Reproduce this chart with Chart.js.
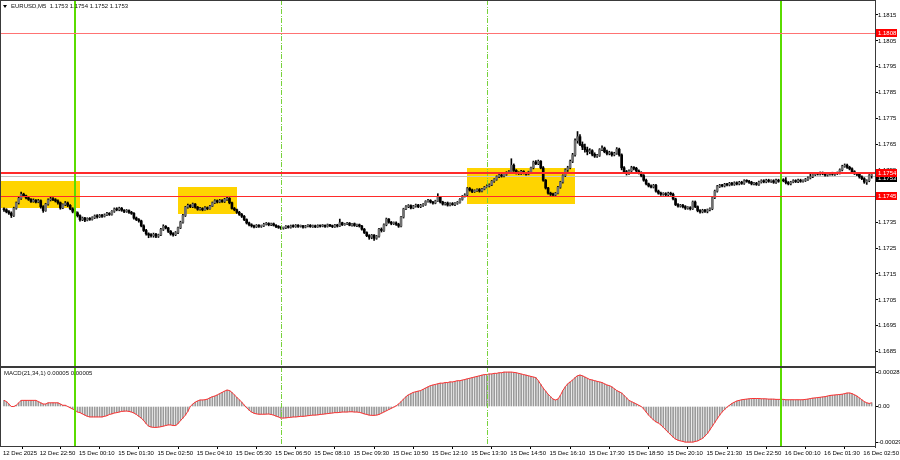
<!DOCTYPE html>
<html><head><meta charset="utf-8">
<script src="https://cdn.jsdelivr.net/npm/chart.js@4.4.1/dist/chart.umd.min.js"></script>
<style>
html,body{margin:0;padding:0;background:#fff;}
#wrap{position:relative;width:900px;height:460px;overflow:hidden;background:#fff;font-family:"Liberation Sans",Arial,sans-serif;}
canvas{position:absolute;left:0;}
#c1{top:0;} #c2{top:367px;}
.lbl{position:absolute;font-size:6px;color:#111;white-space:pre;line-height:7px;}
#tri{position:absolute;left:3px;top:5px;width:0;height:0;border-left:2px solid transparent;border-right:2px solid transparent;border-top:3px solid #000;}
</style></head><body>
<div id="wrap">
<canvas id="c1" width="900" height="367"></canvas>
<canvas id="c2" width="900" height="93"></canvas>
<div id="tri"></div>
<div class="lbl" style="left:11px;top:3px;">EURUSD,M5  1.1753 1.1754 1.1752 1.1753</div>
<div class="lbl" style="left:4px;top:370px;">MACD(21,34,1) 0.00005 0.00005</div>
</div>
<script>
// ---------- DATA (prices in points of 0.00001 above 1.17000) ----------
const BASE = 1.17, PT = 0.00001;
const firstOpenPts = 400;
const closePts = [
398,390,385,376,404,425,442,458,452,444,
438,430,435,428,433,410,395,420,436,440,
437,432,425,405,418,424,415,402,392,386,
375,360,366,358,364,361,368,374,371,376,
373,378,384,380,392,401,398,404,396,392,
395,388,384,366,360,355,336,318,305,300,
298,303,296,301,322,334,328,315,305,302,
310,328,350,376,408,415,410,420,408,400,
403,398,406,402,412,425,433,428,434,430,
438,442,425,403,398,388,380,373,360,347,
340,336,332,338,334,336,342,345,340,344,
338,333,330,327,328,334,330,336,333,338,
334,336,331,335,338,333,336,332,337,335,
338,334,340,336,333,339,335,348,340,343,
346,338,344,337,340,335,323,310,298,292,
300,288,296,323,318,340,362,350,345,347,
342,335,370,401,410,414,405,412,416,410,
415,418,430,434,428,424,432,446,428,420,
424,416,422,418,423,426,438,450,455,480,
474,468,472,476,470,478,485,490,494,508,
515,526,532,528,535,541,545,570,550,541,
538,546,540,536,544,560,582,576,585,560,
512,482,462,458,455,462,485,505,530,552,
560,585,610,665,680,650,640,630,622,626,
612,605,608,630,636,622,615,618,610,616,
632,610,560,545,538,548,560,558,548,541,
530,512,498,490,486,492,470,462,458,460,
456,462,458,440,418,412,415,410,404,406,
402,428,410,395,390,396,392,398,402,445,
470,488,492,490,496,494,500,496,502,498,
504,500,510,508,504,498,500,496,505,510,
506,512,508,510,504,512,508,514,510,503,
498,505,510,507,512,508,511,515,521,526,
534,538,536,540,537,532,536,539,535,538,
540,552,566,570,562,556,545,538,535,525,
518,505,510,530,530];
const highPts = [
405,402,395,390,408,428,446,466,462,455,
448,441,440,437,438,436,414,423,440,446,
445,441,436,428,421,430,428,418,406,396,
390,378,370,369,367,368,371,378,379,380,
380,382,388,387,395,405,406,408,407,399,
399,398,392,387,370,364,358,340,322,309,
306,308,307,304,326,340,337,330,318,310,
314,331,354,380,411,420,418,424,422,411,
407,406,410,409,415,428,437,436,438,437,
442,447,445,428,407,401,392,384,376,363,
350,344,339,341,341,339,346,349,348,347,
347,341,337,333,331,337,337,339,340,341,
341,339,338,338,341,341,339,339,340,339,
341,340,343,342,339,342,342,362,350,346,
349,349,346,347,343,343,338,326,313,302,
303,302,299,326,328,344,366,364,353,351,
351,346,373,404,414,418,417,415,420,419,
419,422,433,438,437,431,435,460,449,431,
427,428,425,426,426,430,441,453,460,484,
484,478,475,479,480,481,488,494,498,511,
518,529,536,535,538,545,549,595,575,553,
545,550,549,543,547,563,586,588,590,588,
565,515,485,466,462,465,488,508,533,556,
566,590,616,672,700,688,660,652,640,634,
630,618,612,634,645,640,628,624,622,620,
638,636,614,565,550,552,566,565,562,552,
545,534,516,501,494,496,496,474,466,464,
464,466,466,462,443,422,419,419,414,410,
410,432,432,413,399,400,400,401,405,449,
474,492,496,496,500,500,504,504,506,506,
508,508,514,514,512,508,504,504,509,514,
514,516,516,514,514,516,516,518,518,522,
507,508,514,514,516,516,514,519,525,540,
538,542,541,544,544,541,540,543,543,542,
544,556,570,575,574,566,560,549,542,539,
529,522,514,534,540];
const lowPts = [
392,386,380,368,372,400,420,438,448,440,
434,426,427,424,425,404,388,392,416,432,
433,428,420,400,402,414,410,398,386,378,
370,354,356,352,355,357,358,364,366,368,
368,370,375,376,377,388,394,394,392,387,
388,384,380,362,356,350,332,314,300,290,
292,292,290,291,298,318,324,310,300,296,
298,306,325,346,372,404,406,406,404,396,
396,394,396,398,400,410,422,424,425,426,
426,434,421,400,394,384,376,368,356,343,
336,331,328,329,330,330,333,339,336,337,
335,329,326,322,323,325,327,327,330,330,
330,331,327,328,332,330,330,329,330,331,
332,330,331,333,329,330,331,333,337,338,
340,336,335,334,333,331,319,306,294,284,
286,280,284,292,312,314,336,346,340,341,
338,330,332,366,398,406,401,402,408,406,
406,411,415,427,424,420,421,430,424,416,
416,412,413,415,414,419,423,435,447,452,
470,464,465,469,466,467,475,482,486,491,
504,512,522,524,525,531,537,541,546,536,
534,534,536,532,533,541,556,572,572,556,
508,478,458,453,450,451,459,481,501,526,
546,556,580,605,655,645,630,620,610,615,
606,600,600,604,626,618,610,610,605,606,
612,605,552,538,532,534,544,552,544,536,
525,508,494,486,482,482,466,458,453,454,
451,452,454,436,414,408,408,405,399,400,
397,399,406,390,385,386,388,386,394,398,
441,466,484,486,486,490,490,492,492,494,
494,496,496,504,500,494,494,492,492,501,
502,502,504,504,500,500,504,504,506,498,
494,494,502,503,503,504,505,507,511,517,
522,530,532,532,533,528,528,532,531,531,
534,536,548,562,558,552,541,534,530,520,
514,500,496,506,520];
// MACD(21,34,1) values in units of 0.00001
const macdPts = [
5,4,2,0,0,1,3,5,5,5,
5,5,5,5,4,3,2,2,3,3,
3,3,3,2,1,1,0,-1,-2,-3,
-4.5,-5,-6,-7,-8,-8.5,-8.5,-8.5,-8.5,-8.5,
-8.5,-8,-7.5,-6.5,-6,-5.3,-5,-4.5,-4,-3.8,
-3.7,-4,-4.5,-5.3,-6.5,-8,-9.4,-11.5,-14,-16,
-16.7,-17,-17,-16.8,-16.5,-16,-15.5,-15,-15,-15.5,
-15.5,-14,-11.5,-9.4,-7,-4,0,2,3.5,4.5,
5.3,5.3,5.5,6,7,8,8.5,9.4,10.5,11.5,
12.5,13.4,13,11.5,9.4,7.5,5.5,3.5,1.2,-1,
-3,-4.5,-5.5,-6,-6.3,-6.3,-6.3,-6.2,-6.1,-6.5,
-7,-7.8,-8.5,-9.4,-9.4,-9.2,-9,-8.8,-8.5,-8.5,
-8.3,-8,-8,-7.8,-7.5,-7.3,-7,-7,-6.8,-6.5,
-6.3,-6,-5.8,-5.5,-5.3,-5,-5,-4.8,-4.5,-4.5,
-4.5,-4.3,-4.3,-4.5,-4.5,-4.8,-5.3,-6,-6.5,-7,
-7.2,-7.2,-7,-6.5,-5.5,-4.5,-3.5,-2.5,-1.5,-0.5,
0.5,2,4,6,8,9.5,10.5,11.5,12,12.5,
13,14,15,16,17,17.5,18,18.5,19,19,
19.5,19.5,20,20,20.5,21,21,21.5,22,22.5,
23,23.5,24,24.5,25,25.5,26,26,26.5,26.5,
27,27,27.5,27.5,28,28,28,28,27.8,27.5,
27,26.5,26,25.5,25,24.5,24,23.5,21,18,
15,12.5,10,8,6,5.3,6,9,13,16,
18.5,20,21.6,23.5,25,25.6,25,24,23,22,
21.6,21,20.5,20,19.5,18.5,17.5,17,16,14.5,
13,12,11,9,7,5,4,3,2,1,
0,-2,-4.5,-7,-9,-11,-12.5,-13.5,-15,-17,
-19,-21,-23,-25,-26.5,-27.5,-28,-28.5,-29,-29,
-29,-29,-28.5,-28,-27,-26,-24,-22,-19,-16,
-13,-10,-7,-4.5,-2.5,-0.5,1,2.5,3.5,4.5,
5,5.5,5.8,6,6.3,6.5,6.5,6.5,6.5,6.3,
6.3,6.2,6,6,6,5.8,5.8,5.8,5.8,5.5,
5.5,5.5,5.5,5.5,5.5,5.5,5.5,5.8,6,6.5,
6.8,7,7.3,7.5,7.8,8,8.5,9,9.2,9.4,
9.6,9.8,10,10.5,11,11,10.5,9.5,8.5,7,
5.5,4,3,2.5,3];
const timeLabels = ['12 Dec 2025','12 Dec 22:50','15 Dec 00:10','15 Dec 01:30','15 Dec 02:50','15 Dec 04:10','15 Dec 05:30','15 Dec 06:50','15 Dec 08:10','15 Dec 09:30','15 Dec 10:50','15 Dec 12:10','15 Dec 13:30','15 Dec 14:50','15 Dec 16:10','15 Dec 17:30','15 Dec 18:50','15 Dec 20:10','15 Dec 21:30','15 Dec 22:50','16 Dec 00:10','16 Dec 01:30','16 Dec 02:50'];
const timeLabelBars = [0,15,31,47,63,79,95,111,127,143,159,175,191,207,223,239,255,271,287,303,319,335,351];
const priceTicks = [1.1815,1.1805,1.1795,1.1785,1.1775,1.1765,1.1755,1.1745,1.1735,1.1725,1.1715,1.1705,1.1695,1.1685];
const macdTicks = [0.00028, 0, -0.00029];
const levelPrices = [1.1808, 1.1754, 1.1745];
const bidPrice = 1.1753;
const boxStartBar = [-3, 71, 189];
const boxEndBar = [31, 95, 233];
const boxTopPrice = [1.17510, 1.17486, 1.17560];
const boxBottomPrice = [1.17405, 1.17382, 1.17420];
const dayLineBars = [29, 317];
const sessionLineBars = [113, 197];

// ---------- build ----------
const X_MIN = -1.632, X_MAX = 355.37;
const Y_MIN = 1.167909, Y_MAX = 1.182079;
const M_MIN = -0.0003298, M_MAX = 0.0003217;
const FONT = '"Liberation Sans", Arial, sans-serif';
const toPrice = v => +(BASE + v * PT).toFixed(5);
const openPts = closePts.map((c, i) => i === 0 ? firstOpenPts : closePts[i - 1]);
const wickData = closePts.map((c, i) => ({x: i, y: [toPrice(lowPts[i]), toPrice(highPts[i])]}));
const bodyData = closePts.map((c, i) => ({x: i, y: [toPrice(openPts[i]), toPrice(c)]}));
const bodyColors = closePts.map((c, i) => c >= openPts[i] ? '#707070' : '#000000');
const macdData = macdPts.map((v, i) => ({x: i, y: +(v * PT).toFixed(7)}));

function vLines(chart) {
  const {ctx, chartArea: a, scales: {x}} = chart;
  ctx.save();
  ctx.fillStyle = 'rgb(120,210,60)';
  sessionLineBars.forEach(b => {
    const px = Math.round(x.getPixelForValue(b));
    for (let yy = a.top; yy < a.bottom; yy += 9) {
      ctx.fillRect(px, yy, 1, Math.min(5, a.bottom - yy));
      if (yy + 7 < a.bottom) ctx.fillRect(px, yy + 7, 1, 1);
    }
  });
  ctx.fillStyle = 'rgb(90,220,0)';
  dayLineBars.forEach(b => {
    const px = 2 * Math.floor(x.getPixelForValue(b) / 2);
    ctx.fillRect(px, a.top, 2, a.bottom - a.top);
  });
  ctx.restore();
}
function frame(chart) {
  const {ctx, chartArea: a} = chart;
  ctx.save();
  ctx.strokeStyle = '#3a3a3a'; ctx.lineWidth = 1;
  ctx.strokeRect(a.left + 0.5, a.top + 0.5, a.right - a.left, a.bottom - a.top - 1);
  ctx.restore();
}
function tag(chart, price, text, bg) {
  const {ctx, scales: {y}} = chart;
  const py = Math.round(y.getPixelForValue(price));
  ctx.save();
  ctx.fillStyle = bg;
  ctx.fillRect(y.left + 1, py - 4, 21, 8);
  ctx.fillStyle = '#fff';
  ctx.font = '6px ' + FONT;
  ctx.textBaseline = 'middle'; ctx.textAlign = 'left';
  ctx.fillText(text, y.left + 3, py + 0.5);
  ctx.restore();
}

const mainOverlay = {
  id: 'mainOverlay',
  beforeDatasetsDraw(chart) {
    const {ctx, chartArea: a, scales: {x, y}} = chart;
    ctx.save();
    ctx.beginPath(); ctx.rect(a.left, a.top, a.right - a.left, a.bottom - a.top); ctx.clip();
    ctx.fillStyle = '#ffd400';
    for (let k = 0; k < boxStartBar.length; k++) {
      const x1 = Math.round(x.getPixelForValue(boxStartBar[k])), x2 = Math.round(x.getPixelForValue(boxEndBar[k]));
      const y1 = Math.round(y.getPixelForValue(boxTopPrice[k])), y2 = Math.round(y.getPixelForValue(boxBottomPrice[k]));
      ctx.fillRect(x1, y1, x2 - x1, y2 - y1);
    }
    const yb = Math.round(y.getPixelForValue(bidPrice));
    ctx.fillStyle = '#c4c4c4';
    ctx.fillRect(a.left, yb, a.right - a.left, 1);
    ctx.restore();
  },
  afterDatasetsDraw(chart) {
    const {ctx, chartArea: a, scales: {y}} = chart;
    vLines(chart);
    const colors = ['#ff7373', '#ff2b2b', '#ff2b2b'];
    const widths = [1, 2, 1];
    ctx.save();
    levelPrices.forEach((p, k) => {
      const py = Math.round(y.getPixelForValue(p));
      ctx.fillStyle = colors[k];
      ctx.fillRect(a.left, py - (widths[k] === 2 ? 1 : 0), a.right - a.left, widths[k]);
    });
    ctx.restore();
  },
  afterDraw(chart) {
    frame(chart);
    tag(chart, bidPrice - 0.0001, bidPrice.toFixed(4), '#000');
    levelPrices.forEach(p => tag(chart, p, p.toFixed(4), '#ff0000'));
  }
};
const macdOverlay = {
  id: 'macdOverlay',
  afterDatasetsDraw(chart) { vLines(chart); },
  afterDraw(chart) { frame(chart); }
};

Chart.defaults.font.family = FONT;
Chart.defaults.font.size = 6;
Chart.defaults.color = '#000';

const yAxisFit = s => { s.width = 25; s.paddingTop = 0; s.paddingBottom = 0; };

new Chart(document.getElementById('c1'), {
  type: 'bar',
  data: {datasets: [
    {data: bodyData, backgroundColor: bodyColors, barThickness: 2, grouped: false, minBarLength: 1, borderWidth: 0, order: 0},
    {data: wickData, backgroundColor: '#000', barThickness: 1, grouped: false, minBarLength: 1, borderWidth: 0, order: 1}
  ]},
  options: {
    responsive: false, animation: false, devicePixelRatio: 1, events: [],
    layout: {padding: 0},
    plugins: {legend: {display: false}, tooltip: {enabled: false}},
    scales: {
      x: {type: 'linear', min: X_MIN, max: X_MAX, offset: false, display: false},
      y: {type: 'linear', position: 'right', min: Y_MIN, max: Y_MAX, beginAtZero: false,
        afterBuildTicks: s => { s.ticks = priceTicks.map(v => ({value: v})); },
        afterFit: yAxisFit,
        ticks: {autoSkip: false, padding: 0, callback: v => Number(v).toFixed(4), font: {size: 6}, color: '#000'},
        grid: {drawOnChartArea: false, drawTicks: true, tickLength: 3, color: '#000'},
        border: {display: true, color: '#3a3a3a'}}
    }
  },
  plugins: [mainOverlay]
});

new Chart(document.getElementById('c2'), {
  type: 'bar',
  data: {datasets: [
    {type: 'line', data: macdData, borderColor: '#ff3030', borderWidth: 1, pointRadius: 0, tension: 0, fill: false, order: 0},
    {data: macdData, backgroundColor: '#9a9a9a', barThickness: 1, grouped: false, borderWidth: 0, order: 1}
  ]},
  options: {
    responsive: false, animation: false, devicePixelRatio: 1, events: [],
    layout: {padding: 0},
    plugins: {legend: {display: false}, tooltip: {enabled: false}},
    scales: {
      x: {type: 'linear', position: 'bottom', min: X_MIN, max: X_MAX, offset: false,
        afterBuildTicks: s => { s.ticks = timeLabelBars.map(v => ({value: v})); },
        afterFit: s => { s.height = 13; s.paddingLeft = 0; s.paddingRight = 0; },
        ticks: {autoSkip: false, maxRotation: 0, minRotation: 0, align: 'start', padding: 1, labelOffset: -1,
          callback: v => { const k = timeLabelBars.indexOf(v); return k >= 0 ? timeLabels[k] : ''; },
          font: {size: 6}, color: '#000'},
        grid: {drawOnChartArea: false, drawTicks: true, tickLength: 2, color: '#000'},
        border: {display: false}},
      y: {type: 'linear', position: 'right', min: M_MIN, max: M_MAX, beginAtZero: false,
        afterBuildTicks: s => { s.ticks = macdTicks.map(v => ({value: v})); },
        afterFit: yAxisFit,
        ticks: {autoSkip: false, padding: 0, callback: v => v === 0 ? '0.00' : Number(v).toFixed(5), font: {size: 6}, color: '#000'},
        grid: {drawOnChartArea: false, drawTicks: true, tickLength: 3, color: '#000'},
        border: {display: true, color: '#3a3a3a'}}
    }
  },
  plugins: [macdOverlay]
});
</script>
</body></html>
